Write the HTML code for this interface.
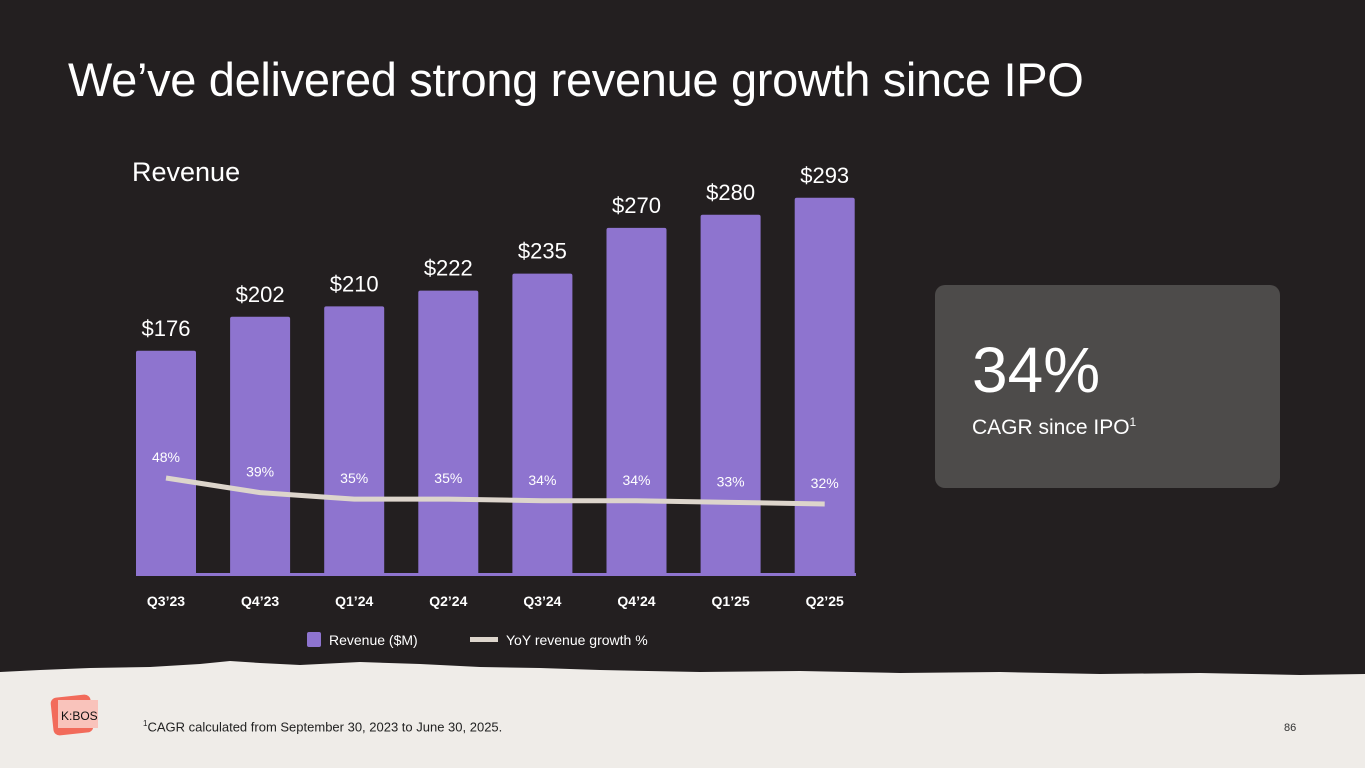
<!DOCTYPE html>
<html><head><meta charset="utf-8"><style>
body{margin:0;width:1365px;height:768px;background:#231f20;overflow:hidden;font-family:"Liberation Sans",sans-serif;position:relative}
.t{position:absolute;color:#fff}
</style></head><body>
<div class="t" style="left:68px;top:52px;font-size:47px;letter-spacing:-0.33px">We’ve delivered strong revenue growth since IPO</div>
<div class="t" style="left:132px;top:157px;font-size:27px">Revenue</div>
<svg id="chart" width="1365" height="768" style="position:absolute;left:0;top:0"></svg>
<div style="position:absolute;left:935px;top:285px;width:345px;height:203px;background:#4d4b4a;border-radius:10px">
<div class="t" style="left:37px;top:48px;font-size:64px">34%</div>
<div class="t" style="left:37px;top:130px;font-size:21px">CAGR since IPO<sup style="font-size:12px">1</sup></div>
</div>
<svg width="1365" height="768" style="position:absolute;left:0;top:0">
<path d="M0 672 L40 670 L90 668 L150 667 L200 664 L230 661 L260 663 L300 665 L360 662 L420 664 L480 667 L540 668 L600 670 L700 672 L800 671 L900 673 L1000 672 L1100 674 L1200 673 L1300 675 L1365 674 L1365 768 L0 768 Z" fill="#efece8"/>
<rect x="52" y="696" width="40" height="38" rx="6" fill="#f26b5b" transform="rotate(-6 72 715)"/>
<rect x="58" y="700" width="40" height="28" fill="#f9c3bb"/>
<text x="61" y="720" font-size="12" font-family="Liberation Sans" fill="#111">K:BOS</text>
</svg>
<div style="position:absolute;left:143px;top:719px;font-size:13px;color:#222"><sup style="font-size:8px">1</sup>CAGR calculated from September 30, 2023 to June 30, 2025.</div>
<div style="position:absolute;left:1284px;top:722px;font-size:11px;color:#333">86</div>
<script>
const categories=["Q3’23","Q4’23","Q1’24","Q2’24","Q3’24","Q4’24","Q1’25","Q2’25"];
const revenue=[176,202,210,222,235,270,280,293];
const growth=[48,39,35,35,34,34,33,32];
const revLabels=["$176","$202","$210","$222","$235","$270","$280","$293"];
const NS="http://www.w3.org/2000/svg";
const svg=document.getElementById('chart');
const xC=i=>166+i*94.1;
const yR=v=>581-v*1.308;
const yG=v=>478+(48-v)*1.625;
function mk(t,a){const e=document.createElementNS(NS,t);for(const k in a)e.setAttribute(k,a[k]);svg.appendChild(e);return e;}
const base=mk('rect',{x:136,y:573,width:720,height:3,fill:'#8e74cf'});


categories.forEach((c,i)=>{
 const b=mk('rect',{x:xC(i)-30,y:yR(revenue[i]),width:60,height:576-yR(revenue[i]),fill:'#8e74cf',rx:2});
 
 
 const l=mk('text',{x:xC(i),y:yR(revenue[i])-15,'text-anchor':'middle','font-size':22,fill:'#fff','font-family':'Liberation Sans'});
 l.textContent=revLabels[i];
 
 
 const x=mk('text',{x:xC(i),y:606,'text-anchor':'middle','font-size':14,'font-weight':'bold',fill:'#fff','font-family':'Liberation Sans'});
 x.textContent=c;
 
 
});
let d='';growth.forEach((g,i)=>{d+=(i?'L':'M')+xC(i)+' '+yG(g)});
const ln=mk('path',{d:d,stroke:'#ddd5cc',"stroke-width":5,fill:'none','stroke-linejoin':'round'});


growth.forEach((g,i)=>{
 const t=mk('text',{x:xC(i),y:yG(g)-16,'text-anchor':'middle','font-size':14,fill:'#fff','font-family':'Liberation Sans'});
 t.textContent=g+'%';
 
 
});
const lg1=mk('rect',{x:307,y:632,width:14,height:15,rx:2,fill:'#8e74cf'});


const lt1=mk('text',{x:329,y:645,'font-size':14,fill:'#fff','font-family':'Liberation Sans'});lt1.textContent='Revenue ($M)';


const lg2=mk('rect',{x:470,y:637,width:28,height:5,fill:'#ddd5cc'});


const lt2=mk('text',{x:506,y:645,'font-size':14,fill:'#fff','font-family':'Liberation Sans'});lt2.textContent='YoY revenue growth  %';


</script>
</body></html>
